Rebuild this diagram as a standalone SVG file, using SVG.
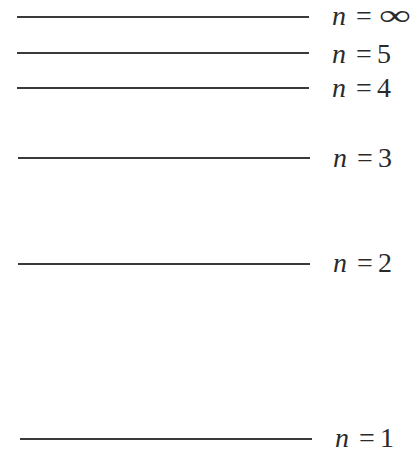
<svg xmlns="http://www.w3.org/2000/svg" width="417" height="455" viewBox="0 0 417 455">
<style>
.lvl{stroke:#3a3a3a;stroke-width:2;fill:none}
text{font-family:"Liberation Serif","Times New Roman",serif;font-size:28px;fill:#2a2a2a}
.n{font-style:italic}
</style>
<rect width="417" height="455" fill="#ffffff"/>
<g id="level-inf"><line class="lvl" x1="17" y1="17" x2="309" y2="17"/><text y="25"><tspan class="n" x="332">n</tspan><tspan x="356">=</tspan></text><text transform="translate(379,25) scale(1.6,1.05)">∞</text></g>
<g id="level-5"><line class="lvl" x1="17" y1="53" x2="309" y2="53"/><text y="63"><tspan class="n" x="332">n</tspan><tspan x="356">=</tspan><tspan x="377">5</tspan></text></g>
<g id="level-4"><line class="lvl" x1="17" y1="88" x2="309" y2="88"/><text y="97"><tspan class="n" x="332">n</tspan><tspan x="356">=</tspan><tspan x="377">4</tspan></text></g>
<g id="level-3"><line class="lvl" x1="18" y1="158" x2="310" y2="158"/><text y="167"><tspan class="n" x="333">n</tspan><tspan x="357">=</tspan><tspan x="378">3</tspan></text></g>
<g id="level-2"><line class="lvl" x1="18" y1="264" x2="310" y2="264"/><text y="272"><tspan class="n" x="333">n</tspan><tspan x="357">=</tspan><tspan x="378">2</tspan></text></g>
<g id="level-1"><line class="lvl" x1="20" y1="439" x2="312" y2="439"/><text y="447"><tspan class="n" x="335">n</tspan><tspan x="359">=</tspan><tspan x="380">1</tspan></text></g>
<g id="connectors"/>
</svg>
